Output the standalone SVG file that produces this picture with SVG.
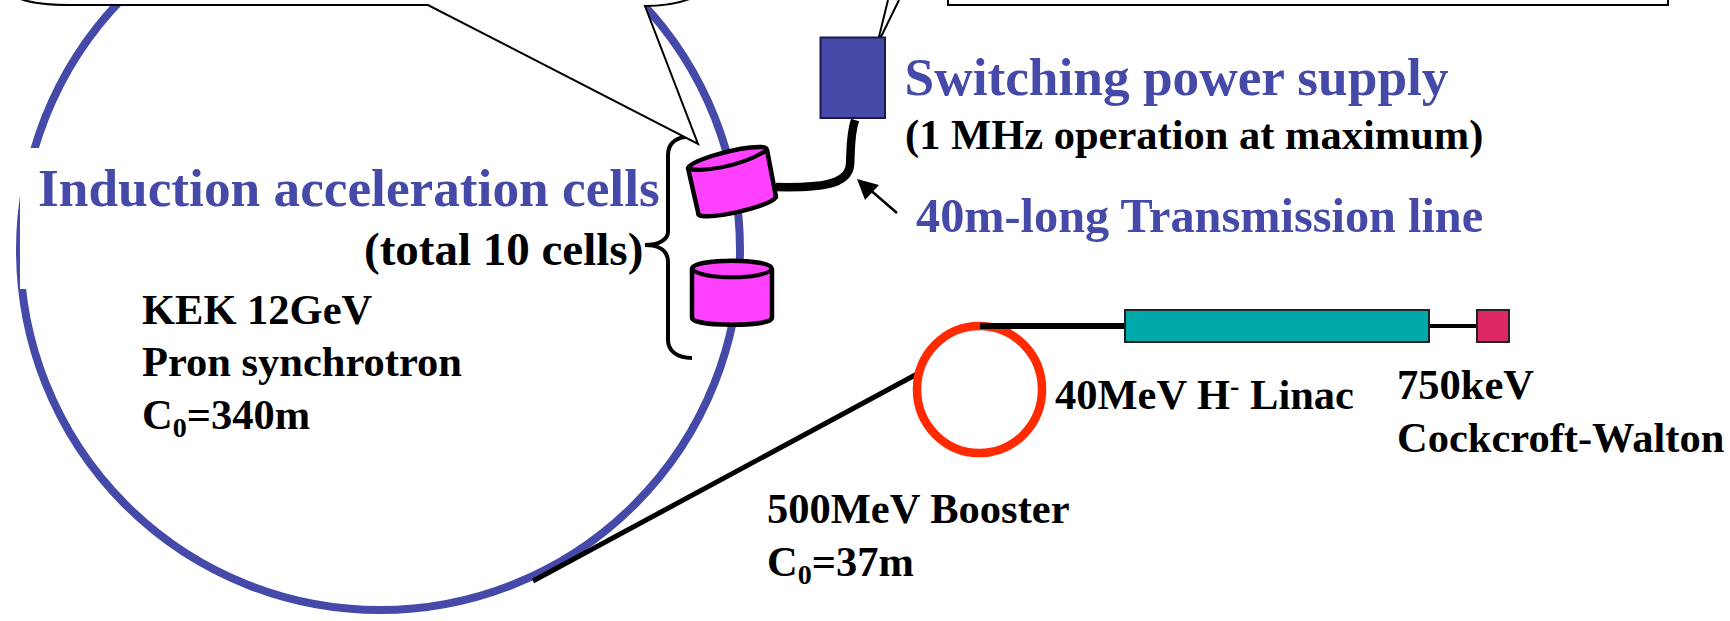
<svg xmlns="http://www.w3.org/2000/svg" width="1730" height="621" viewBox="0 0 1730 621">
<style>
text{font-family:"Liberation Serif","Times New Roman",serif;font-weight:700;fill:#000}
.b{fill:#4549a8}
.cyl{fill:#ff40ff;stroke:#000;stroke-width:4.500;stroke-linejoin:round}
.out{fill:#fff;stroke:#000;stroke-width:2}
.s{font-size:42.500px}
.sub{font-size:28px}
</style>
<rect width="1730" height="621" fill="#fff"/>
<g id="main-ring"><circle cx="380" cy="250" r="360" fill="none" stroke="#4549a8" stroke-width="8"/></g>
<rect x="20" y="148" width="640" height="141" fill="#fff"/>
<g id="connectors" fill="none" stroke="#000">
<path d="M855 120C850 135 851 150 850 165C848 185 820 188 776 187" stroke-width="8.500"/>
<path d="M897 213L868 188" stroke-width="2.500"/>
<path d="M857 179L879 185L865 200Z" fill="#000" stroke="none"/>
<path d="M695 137C678 135 668 142 668 155V232C668 240 658 245 645 245C658 245 668 250 668 262V340C668 350 676 358 692 358" stroke-width="4"/>
<path d="M1430 326H1477" stroke-width="4"/>
<path d="M917 374L533 581" stroke-width="5"/>
</g>
<g id="callout-left"><path class="out" d="M18 -2C30 3 50 5 70 5H428L698 144L645 6C665 6 680 3 692 -2Z"/></g>
<g id="callout-right">
<rect class="out" x="948" y="-5" width="720" height="10"/>
<path d="M888 0L877 45L899 0" fill="#fff" stroke="#000" stroke-width="2"/>
</g>
<g id="power-supply"><rect x="820.500" y="37.500" width="64.500" height="80.500" fill="#4549a8" stroke="#1a1a50" stroke-width="2"/></g>
<g id="cell-1">
<path class="cyl" d="M688 168C692 160 740 146 762 147C766 147 767 149 767 150L776 197C770 206 720 218 702 216C699 216 698 214 698 212Z"/>
<path d="M688 168C695 173 740 168 767 150" fill="none" stroke="#000" stroke-width="4"/>
</g>
<g id="cell-2">
<path class="cyl" d="M692 269C692 258 772 258 772 269V318C772 327 692 327 692 318Z"/>
<path d="M692 269C700 280 765 280 772 269" fill="none" stroke="#000" stroke-width="4"/>
</g>
<g id="booster-ring"><ellipse cx="979.500" cy="389.500" rx="62.500" ry="63.500" fill="none" stroke="#ff2a00" stroke-width="8.500"/></g>
<path id="booster-linac" d="M980 326H1125" stroke="#000" stroke-width="6"/>
<g id="linac"><rect x="1125" y="310" width="304" height="32" fill="#00a9a9" stroke="#222" stroke-width="2"/></g>
<g id="cockcroft"><rect x="1477" y="310" width="32" height="32" fill="#dc2864" stroke="#222" stroke-width="2"/></g>
<g id="labels">
<text class="b" x="904.500" y="95" font-size="53.300">Switching power supply</text>
<text x="905" y="149" font-size="42.500">(1 MHz operation at maximum)</text>
<text class="b" x="916" y="232" font-size="48.300">40m-long Transmission line</text>
<text class="b" x="38" y="206" font-size="53.300">Induction acceleration cells</text>
<text x="364" y="265" font-size="47">(total 10 cells)</text>
<text class="s" x="142" y="324">KEK 12GeV</text>
<text class="s" x="142" y="376">Pron synchrotron</text>
<text class="s" x="142" y="429">C<tspan class="sub" dy="8">0</tspan><tspan dy="-8">=340m</tspan></text>
<text class="s" x="1055" y="409">40MeV H<tspan class="sub" dy="-14">-</tspan><tspan dy="14"> Linac</tspan></text>
<text class="s" x="1397" y="399">750keV</text>
<text class="s" x="1397" y="452">Cockcroft-Walton</text>
<text class="s" x="767" y="523">500MeV Booster</text>
<text class="s" x="767" y="576">C<tspan class="sub" dy="8">0</tspan><tspan dy="-8">=37m</tspan></text>
</g>
</svg>
